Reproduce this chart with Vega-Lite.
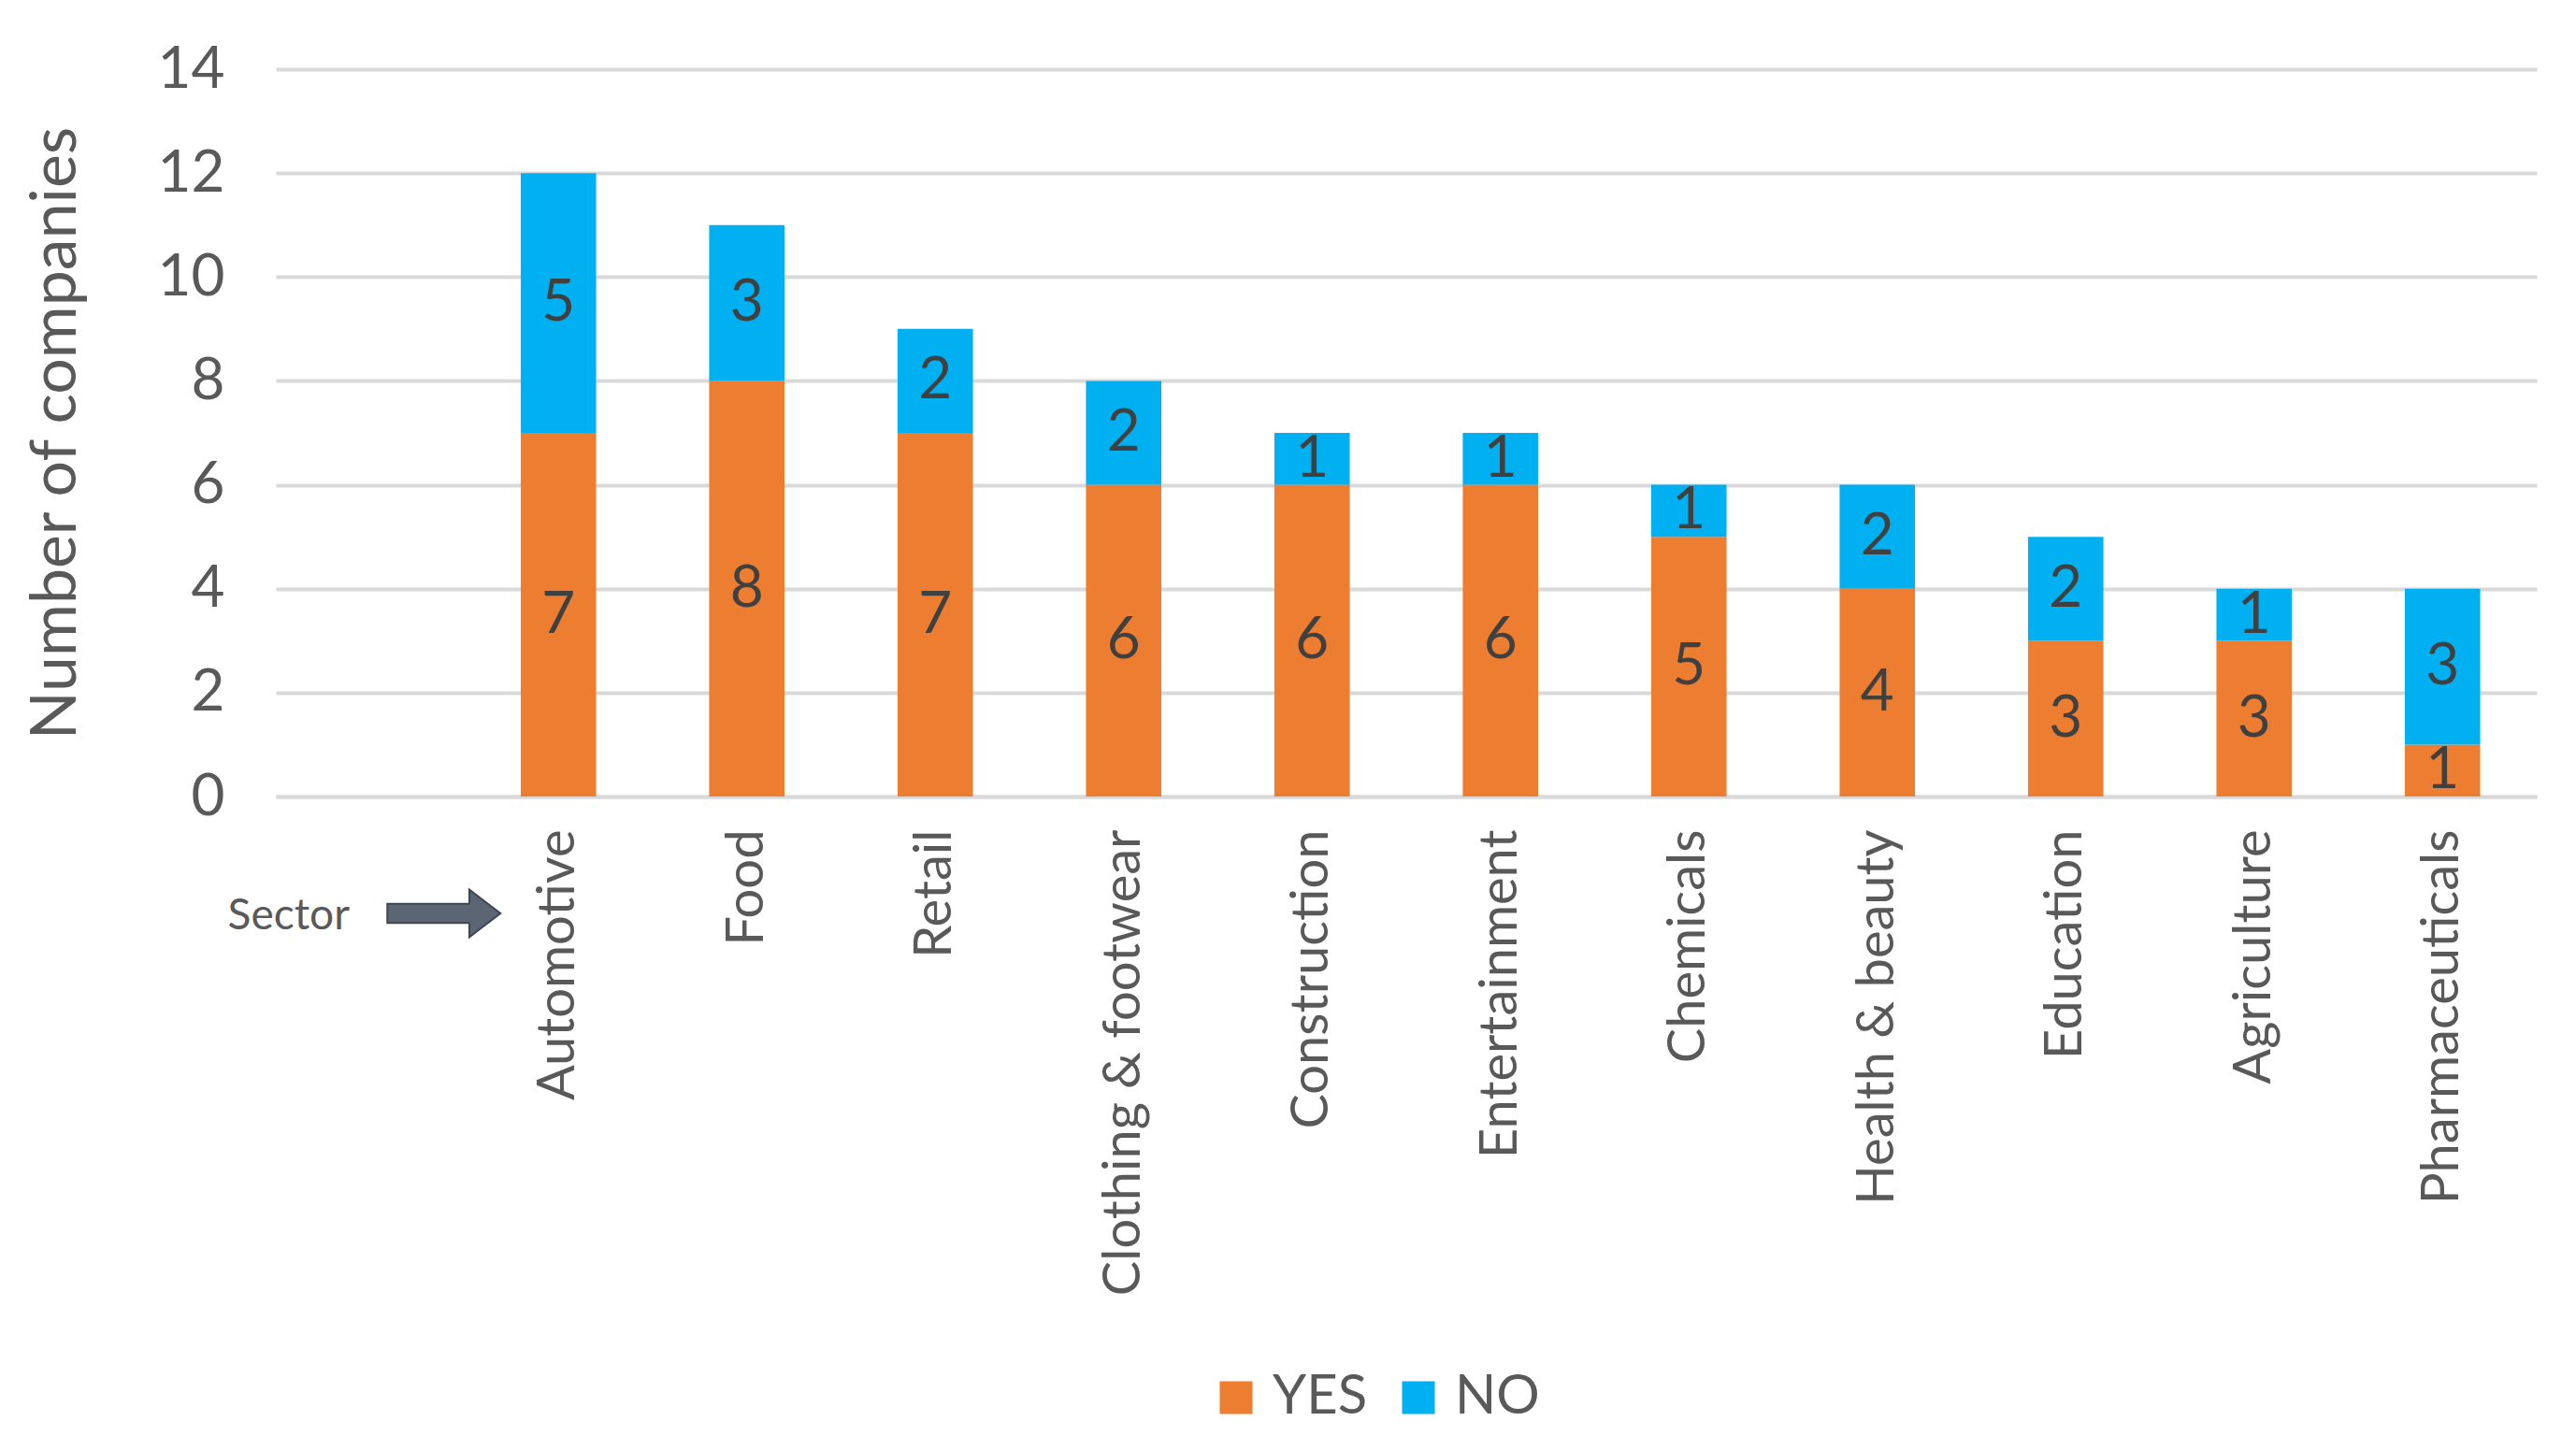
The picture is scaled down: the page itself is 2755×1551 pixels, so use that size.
{
  "$schema": "https://vega.github.io/schema/vega-lite/v6.json",
  "autosize": {"type": "none"},
  "width": 2418,
  "height": 778,
  "padding": {"left": 295, "top": 74, "right": 42, "bottom": 699},
  "background": "white",
  "config": {"font": "Lato", "view": {"stroke": null}},
  "datasets": {
    "counts": [
      {"sector": "Automotive", "answer": "YES", "count": 7},
      {"sector": "Automotive", "answer": "NO", "count": 5},
      {"sector": "Food", "answer": "YES", "count": 8},
      {"sector": "Food", "answer": "NO", "count": 3},
      {"sector": "Retail", "answer": "YES", "count": 7},
      {"sector": "Retail", "answer": "NO", "count": 2},
      {"sector": "Clothing & footwear", "answer": "YES", "count": 6},
      {"sector": "Clothing & footwear", "answer": "NO", "count": 2},
      {"sector": "Construction", "answer": "YES", "count": 6},
      {"sector": "Construction", "answer": "NO", "count": 1},
      {"sector": "Entertainment", "answer": "YES", "count": 6},
      {"sector": "Entertainment", "answer": "NO", "count": 1},
      {"sector": "Chemicals", "answer": "YES", "count": 5},
      {"sector": "Chemicals", "answer": "NO", "count": 1},
      {"sector": "Health & beauty", "answer": "YES", "count": 4},
      {"sector": "Health & beauty", "answer": "NO", "count": 2},
      {"sector": "Education", "answer": "YES", "count": 3},
      {"sector": "Education", "answer": "NO", "count": 2},
      {"sector": "Agriculture", "answer": "YES", "count": 3},
      {"sector": "Agriculture", "answer": "NO", "count": 1},
      {"sector": "Pharmaceuticals", "answer": "YES", "count": 1},
      {"sector": "Pharmaceuticals", "answer": "NO", "count": 3}
    ],
    "note": [
      {"sector": " ", "note": "Sector", "level": 0}
    ]
  },
  "layer": [
    {
      "data": {"name": "counts"},
      "mark": {"type": "bar"},
      "encoding": {
        "x": {
          "field": "sector", "type": "nominal", "sort": null, "title": null,
          "scale": {
            "domain": [" ", "Automotive", "Food", "Retail", "Clothing & footwear", "Construction", "Entertainment", "Chemicals", "Health & beauty", "Education", "Agriculture", "Pharmaceuticals"],
            "paddingInner": 0.6, "paddingOuter": 0.3
          },
          "axis": {
            "labelAngle": -90, "labelFontSize": 56, "labelColor": "#595959", "labelLimit": 0,
            "labelPadding": 35, "ticks": false, "domainColor": "#D9D9D9", "domainWidth": 4
          }
        },
        "y": {
          "field": "count", "type": "quantitative", "stack": "zero",
          "title": "Number of companies",
          "scale": {"domain": [0, 14]},
          "axis": {
            "values": [0, 2, 4, 6, 8, 10, 12, 14], "format": "d", "grid": true, "gridColor": "#D9D9D9", "gridWidth": 4,
            "domain": false, "ticks": false, "labelFontSize": 62, "labelColor": "#595959", "labelPadding": 55,
            "titleFontSize": 68, "titleColor": "#595959", "titleFontWeight": "normal", "titlePadding": 74
          }
        },
        "color": {
          "field": "answer", "type": "nominal",
          "scale": {"domain": ["YES", "NO"], "range": ["#ED7D31", "#00B0F0"]},
          "legend": {
            "orient": "none", "legendX": 998, "legendY": 1392, "direction": "horizontal", "title": null,
            "symbolType": "square", "symbolSize": 1225, "symbolStrokeWidth": 0,
            "labelFontSize": 58, "labelColor": "#595959", "columnPadding": 25, "labelOffset": 10
          }
        },
        "order": {"field": "answer", "sort": "descending"}
      }
    },
    {
      "data": {"name": "counts"},
      "transform": [
        {"stack": "count", "groupby": ["sector"], "sort": [{"field": "answer", "order": "descending"}], "as": ["y0", "y1"]},
        {"calculate": "(datum.y0 + datum.y1) / 2", "as": "mid"}
      ],
      "mark": {"type": "text", "fontSize": 62, "color": "#404040", "baseline": "middle", "align": "center"},
      "encoding": {
        "x": {"field": "sector", "type": "nominal", "sort": null, "title": null},
        "y": {"field": "mid", "type": "quantitative", "title": "Number of companies"},
        "text": {"field": "count", "type": "quantitative"}
      }
    },
    {
      "data": {"name": "note"},
      "mark": {"type": "text", "dx": -87, "dy": 128, "fontSize": 46, "color": "#595959", "align": "center", "baseline": "middle"},
      "encoding": {
        "x": {"field": "sector", "type": "nominal", "sort": null, "title": null},
        "y": {"field": "level", "type": "quantitative", "title": "Number of companies"},
        "text": {"field": "note", "type": "nominal"}
      }
    },
    {
      "data": {"name": "note"},
      "mark": {
        "type": "point",
        "shape": "M -1 -0.17 L 0.45 -0.17 L 0.45 -0.42 L 1 0 L 0.45 0.42 L 0.45 0.17 L -1 0.17 Z",
        "filled": true, "size": 14641, "color": "#5B6573", "stroke": "#3E4652", "strokeWidth": 2,
        "opacity": 1, "xOffset": 79, "yOffset": 125
      },
      "encoding": {
        "x": {"field": "sector", "type": "nominal", "sort": null, "title": null},
        "y": {"field": "level", "type": "quantitative", "title": "Number of companies"}
      }
    }
  ]
}
